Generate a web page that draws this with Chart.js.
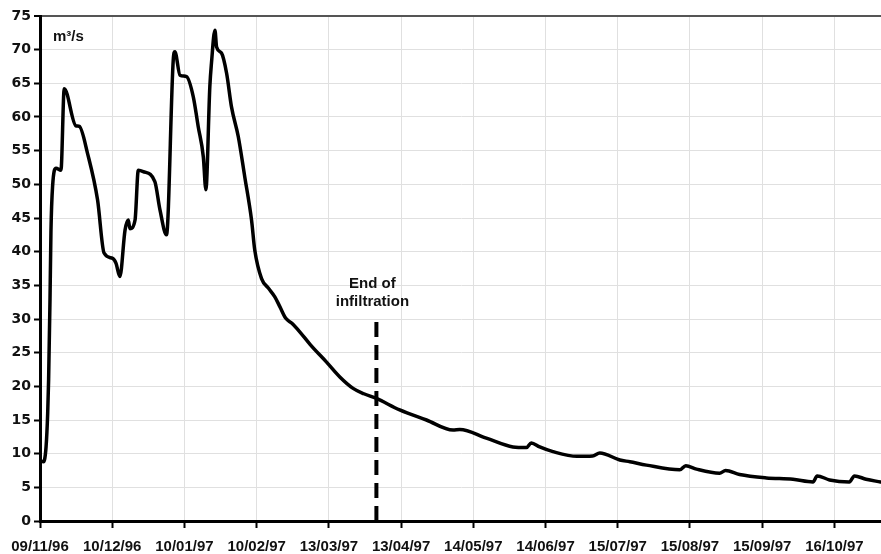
<!DOCTYPE html>
<html>
<head>
<meta charset="utf-8">
<script src="https://cdn.jsdelivr.net/npm/chart.js@4.4.1/dist/chart.umd.min.js"></script>
<style>
  html, body { margin: 0; padding: 0; background: #fff; }
  #wrap { width: 881px; height: 554px; }
</style>
</head>
<body>
<div id="wrap"><canvas id="caudalChart" width="881" height="554"></canvas></div>
<script>
// Fechas de las marcas del eje X (dd/mm/yy)
const tickLabels = ['09/11/96', '10/12/96', '10/01/97', '10/02/97', '13/03/97', '13/04/97',
  '14/05/97', '14/06/97', '15/07/97', '15/08/97', '15/09/97', '16/10/97'];

// Caudal: días desde 09/11/96 y valor en m3/s
const flowDays = [0, 1.5, 2.6, 3.3, 3.7, 4.3, 4.7, 5.4, 6.9, 9.0, 10.4, 15.4, 16.9, 20.4, 24.7,
  27.5, 31.2, 32.6, 34.3, 36.5, 37.9, 38.6, 40.8, 42.2, 44.3, 49.3, 51.5, 54.3, 57.2, 57.9,
  60.1, 62.9, 65.8, 67.9, 70.1, 71.2, 72.9, 73.6, 75.1, 75.8, 77.9, 80.1, 82.2, 85.1, 87.9,
  90.8, 92.2, 95.1, 98.0, 100.8, 103.0, 105.5, 108.0, 111.5, 116.0, 123.0, 128.7, 134.4, 139.0,
  144.4, 154.4, 165.9, 177.3, 180.2, 191.6, 203.0, 208.8, 210.9, 214.5, 220.2, 230.5, 237.2,
  240.3, 248.9, 253.2, 260.3, 274.6, 277.2, 281.8, 291.7, 294.3, 300.3, 311.8, 323.2, 331.8,
  333.6, 338.9, 347.4, 349.6, 354.6, 360.8];
const flowValues = [9.0, 8.8, 11.0, 16.0, 21.0, 33.0, 43.0, 49.7, 52.4, 52.1, 64.2, 58.7, 58.6, 54.6, 47.7,
  39.8, 39.0, 38.3, 36.3, 43.2, 44.7, 43.4, 44.7, 52.1, 51.9, 50.4, 46.2, 42.5, 68.5, 69.7,
  66.2, 66.0, 63.0, 58.6, 54.1, 49.2, 64.5, 68.0, 72.9, 70.4, 69.5, 66.5, 61.5, 57.1, 51.1,
  44.7, 40.2, 36.0, 34.6, 33.3, 31.8, 30.1, 29.4, 28.1, 26.2, 23.6, 21.4, 19.7, 18.9,
  18.2, 16.5, 15.0, 13.5, 13.6, 12.3, 11.0, 10.9, 11.6, 11.0, 10.3, 9.6, 9.65,
  10.1, 9.06, 8.8, 8.3, 7.6, 8.2, 7.7, 7.1, 7.5, 6.9, 6.4, 6.2, 5.8,
  6.7, 6.1, 5.8, 6.7, 6.2, 5.8];

// Fin de la infiltración (día) y altura de la línea discontinua
const infiltrationDay = [144.4, 144.4];
const infiltrationLine = [0, 30.6];

const xMax = 361;
const yMax = 75;

// Pasar 'dd/mm/yy' a días desde la primera fecha
function diasDesde(label, origen) {
  const [d, m, y] = label.split('/').map(Number);
  return (Date.UTC(1900 + y, m - 1, d) - origen) / 86400000;
}
const origen = Date.UTC(1996, 10, 9);
const tickDays = tickLabels.map(l => diasDesde(l, origen));

const flowPoints = flowDays.map((d, i) => ({ x: d, y: flowValues[i] }));
const infilPoints = infiltrationDay.map((d, i) => ({ x: d, y: infiltrationLine[i] }));

// Textos dentro del gráfico
const textosPlugin = {
  id: 'textos',
  afterDraw(chart) {
    const ctx = chart.ctx;
    const xs = chart.scales.x;
    ctx.save();
    ctx.fillStyle = '#111';
    ctx.font = 'bold 15px "Liberation Sans", Arial, sans-serif';
    ctx.textAlign = 'left';
    ctx.textBaseline = 'alphabetic';
    ctx.fillText('m³/s', 53, 41);
    const cx = xs.getPixelForValue(infiltrationDay[0]) - 4;
    ctx.textAlign = 'center';
    ctx.fillText('End of', cx, 288);
    ctx.fillText('infiltration', cx, 306);
    ctx.restore();
  }
};

const ctx = document.getElementById('caudalChart').getContext('2d');
new Chart(ctx, {
  type: 'line',
  data: {
    datasets: [
      {
        data: infilPoints,
        borderColor: '#000',
        borderWidth: 4,
        borderDash: [15, 8],
        pointRadius: 0,
        fill: false
      },
      {
        data: flowPoints,
        borderColor: '#000',
        borderWidth: 3.5,
        pointRadius: 0,
        cubicInterpolationMode: 'monotone',
        borderJoinStyle: 'round',
        borderCapStyle: 'round',
        fill: false
      }
    ]
  },
  options: {
    responsive: false,
    animation: false,
    layout: { padding: { top: 16, right: 0, bottom: 0, left: 0 } },
    plugins: {
      legend: { display: false },
      tooltip: { enabled: false }
    },
    scales: {
      x: {
        type: 'linear',
        min: 0,
        max: xMax,
        afterBuildTicks: (scale) => {
          scale.ticks = tickDays.map(v => ({ value: v }));
        },
        afterFit: (scale) => { scale.height = 33; },
        ticks: {
          autoSkip: false,
          maxRotation: 0,
          padding: 10,
          color: '#111',
          font: { family: '"Liberation Sans", Arial, sans-serif', size: 15, weight: 'bold' },
          callback: (v, i) => tickLabels[i]
        },
        grid: {
          color: '#e0e0e0',
          lineWidth: 1,
          tickColor: '#000',
          tickLength: 7,
          tickWidth: 2
        },
        border: { color: '#000', width: 3 }
      },
      y: {
        min: 0,
        max: yMax,
        afterFit: (scale) => { scale.width = 40; },
        ticks: {
          stepSize: 5,
          padding: 3,
          color: '#111',
          font: { family: '"DejaVu Sans", sans-serif', size: 14, weight: 'bold' }
        },
        grid: {
          color: (c) => c.tick && c.tick.value === yMax ? '#555' : '#e0e0e0',
          lineWidth: (c) => c.tick && c.tick.value === yMax ? 2 : 1,
          tickColor: '#000',
          tickLength: 6,
          tickWidth: 2
        },
        border: { color: '#000', width: 3 }
      }
    }
  },
  plugins: [textosPlugin]
});
</script>
</body>
</html>
